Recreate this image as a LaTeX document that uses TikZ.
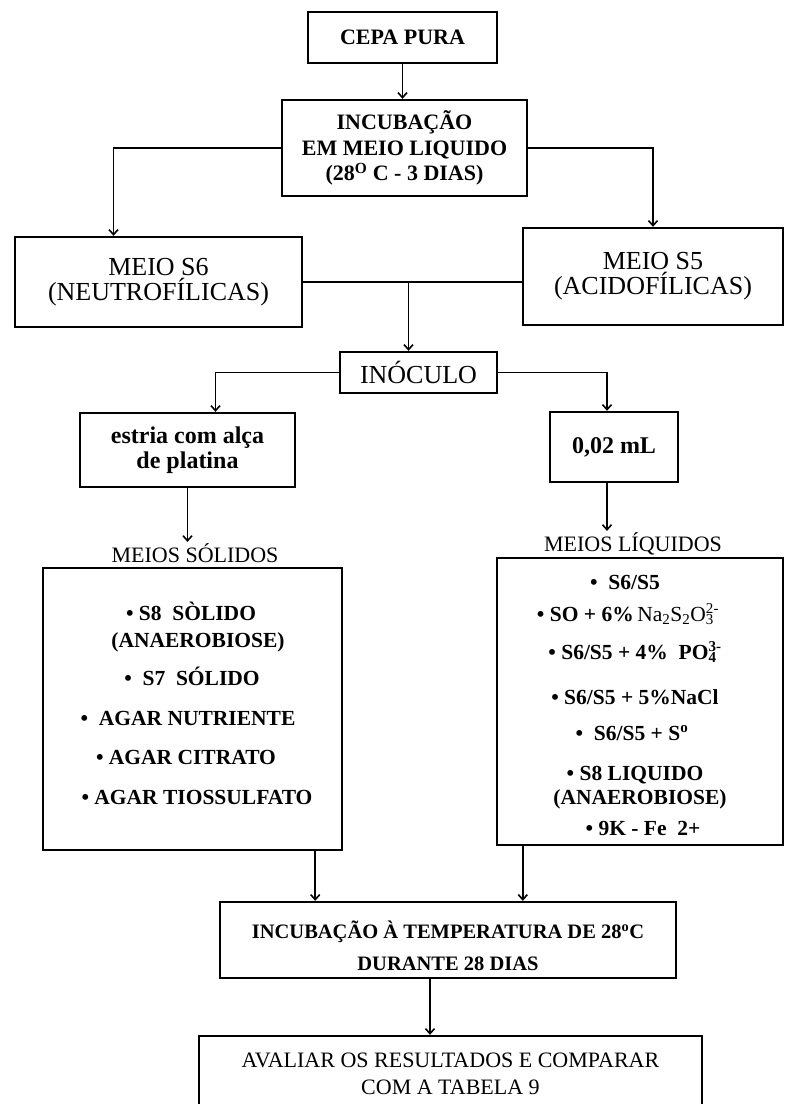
\documentclass[tikz,border=0pt]{standalone}
\usepackage{fontspec}
\setmainfont{Liberation Serif}
\usetikzlibrary{arrows.meta,positioning}

\newcommand{\ionsub}[2]{\rlap{\textsubscript{#1}}\textsuperscript{#2}}

\begin{document}
\begin{tikzpicture}[x=1pt,y=-1pt,
	box/.style={draw,line width=2.4pt,align=center,inner sep=2pt},
	arr/.style={line width=1.6pt,-{Straight Barb[length=5pt,width=9pt]}},
	bigtxt/.style={font=\fontsize{26}{25}\selectfont},
	midtxt/.style={font=\bfseries\fontsize{22}{25.5}\selectfont},
	itemtxt/.style={font=\bfseries\fontsize{21.5}{24}\selectfont,inner sep=0pt,anchor=base}]
\useasboundingbox (0,0) rectangle (785,1104);

% upper part
\node[box,midtxt,minimum width=189pt,minimum height=51pt] (cepa) at (402.5,37.5) {CEPA PURA};
\node[box,midtxt,minimum width=245pt,minimum height=96pt] (inc1) at (404.5,148) {INCUBAÇÃO\\EM MEIO LIQUIDO\\(28\textsuperscript{O} C - 3 DIAS)};
\node[box,bigtxt,minimum width=287pt,minimum height=90pt] (s6) at (158.5,282) {MEIO S6\\(NEUTROFÍLICAS)};
\node[box,bigtxt,minimum width=260pt,minimum height=97pt] (s5) at (653,276.5) {MEIO S5\\(ACIDOFÍLICAS)};
\node[box,bigtxt,minimum width=157pt,minimum height=41pt] (inoc) at (418.5,372.5) {INÓCULO};
\node[box,font=\bfseries\fontsize{24}{25}\selectfont,minimum width=215pt,minimum height=74pt] (estria) at (187.5,450) {estria com alça\\de platina};
\node[box,font=\bfseries\fontsize{24}{25}\selectfont,minimum width=128pt,minimum height=70pt] (ml) at (614,447) {0,02 mL};

% culture media
\node[font=\fontsize{22}{24}\selectfont,anchor=base,inner sep=1pt] (sollbl) at (195,562) {MEIOS SÓLIDOS};
\node[box,minimum width=299pt,minimum height=282pt] (solid) at (192.5,709) {};
\node[font=\fontsize{22}{24}\selectfont,anchor=base,inner sep=1pt] (liqlbl) at (633,551) {MEIOS LÍQUIDOS};
\node[box,minimum width=286pt,minimum height=287pt] (liquid) at (640,701.5) {};

\foreach \x/\y/\txt [count=\n] in {191/620/{\textbullet\ S8\ \ SÒLIDO}, 198/647/{(ANAEROBIOSE)},
	192/685/{\textbullet\ \ S7\ \ SÓLIDO}, 188/725/{\textbullet\ \ AGAR NUTRIENTE},
	186/764/{\textbullet\ AGAR CITRATO}, 197/804/{\textbullet\ AGAR TIOSSULFATO}}
	\node[itemtxt] (sol\n) at (\x,\y) {\txt};

\foreach \x/\y/\txt [count=\n] in {625/589/{\textbullet\ \ S6/S5},
	628/621/{\textbullet\ SO + 6\%\,{\mdseries Na\textsubscript{2}S\textsubscript{2}O\ionsub{3}{2-}}},
	635/659/{\textbullet\ S6/S5 + 4\%\ \ PO\ionsub{4}{3-}}, 635/704/{\textbullet\ S6/S5 + 5\%NaCl},
	632/740/{\textbullet\ \ S6/S5 + S\textsuperscript{o}}, 635/780/{\textbullet\ S8\ LIQUIDO},
	640/804/{(ANAEROBIOSE)}, 643/835/{\textbullet\ 9K - Fe\ \ 2+}}
	\node[itemtxt] (liq\n) at (\x,\y) {\txt};

% lower part
\node[box,font=\bfseries\fontsize{20.5}{32}\selectfont,minimum width=456pt,minimum height=76pt] (inc2) at (448,940) {\rule{0pt}{30pt}INCUBAÇÃO À TEMPERATURA DE 28\textsuperscript{o}C\\DURANTE 28 DIAS};
\node[box,font=\fontsize{22}{27}\selectfont,minimum width=503pt,minimum height=76pt] (aval) at (450.5,1074) {AVALIAR OS RESULTADOS E COMPARAR\\COM A TABELA 9};

% connectors
\draw[arr] (cepa.south) -- (cepa.south |- inc1.north);
\draw[arr] (inc1.west) -| ([xshift=-45pt]s6.north);
\draw[arr] (inc1.east) -| (s5.north);
\draw[line width=1.6pt] (s6.east) -- (s6.east -| s5.west);
\draw[arr] ([xshift=-10pt]inoc.north |- s6.east) -- ([xshift=-10pt]inoc.north);
\draw[arr] (inoc.west) -| ([xshift=28pt]estria.north);
\draw[arr] (inoc.east) -| ([xshift=-7pt]ml.north);
\draw[arr] (estria.south) -- (estria.south |- sollbl.north);
\draw[arr] ([xshift=-7pt]ml.south) -- ([xshift=-7pt]ml.south |- liqlbl.north);
\draw[arr] ([xshift=-28pt]solid.south east) -- ([xshift=-28pt]solid.south east |- inc2.north);
\draw[arr] ([xshift=27pt]liquid.south west) -- ([xshift=27pt]liquid.south west |- inc2.north);
\draw[arr] ([xshift=-18pt]inc2.south) -- ([xshift=-18pt]inc2.south |- aval.north);
\end{tikzpicture}
\end{document}
